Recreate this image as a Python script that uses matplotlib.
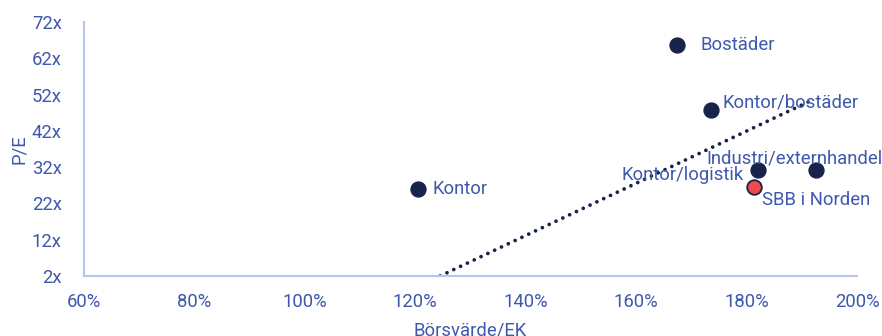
import matplotlib
matplotlib.use('Agg')
import matplotlib.pyplot as plt
from matplotlib.ticker import FuncFormatter

plt.rcParams['font.family'] = ['Roboto', 'DejaVu Sans']

# data
segment = ['Bostäder', 'Kontor/bostäder', 'Industri/externhandel', 'Kontor/logistik', 'Kontor']
pb = [167.4, 173.6, 192.6, 182.1, 120.5]
pe = [65.6, 47.7, 31.2, 31.2, 26.0]

sbb_name = 'SBB i Norden'
sbb_pb = 181.4
sbb_pe = 26.5

# trendline end points
trend_x = [124.5, 191.2]
trend_y = [2.0, 50.0]

x_ticks = [60, 80, 100, 120, 140, 160, 180, 200]
y_ticks = [2, 12, 22, 32, 42, 52, 62, 72]

txt = '#3d58ad'
axcol = '#b7c5ee'
navy = '#17234a'
fs = 13.3

fig = plt.figure(figsize=(8.82, 3.36), dpi=100)
ax = fig.add_axes([0.0952, 0.1786, 0.8765, 0.756])

ax.plot(trend_x, trend_y, linestyle=(0, (0.01, 2.0)), color=navy, lw=2.7,
        dash_capstyle='round', zorder=2)

ax.scatter(pb, pe, s=115, color=navy, zorder=3)
ax.scatter([sbb_pb], [sbb_pe], s=110, color='#f04a4a', edgecolor=navy, linewidth=1.3, zorder=4)

# label offsets in pixels
offs = {'Bostäder': (23, 0, 'left'),
        'Kontor/bostäder': (11, 8, 'left'),
        'Industri/externhandel': (-110, 12, 'left'),
        'Kontor/logistik': (-14, -5, 'right'),
        'Kontor': (14, 0, 'left')}
for name, x, y in zip(segment, pb, pe):
    dx, dy, ha = offs[name]
    ax.annotate(name, (x, y), xytext=(dx, dy), textcoords='offset pixels',
                ha=ha, va='center', color=txt, fontsize=fs, zorder=5)
ax.annotate(sbb_name, (sbb_pb, sbb_pe), xytext=(8, -13), textcoords='offset pixels',
            ha='left', va='center', color=txt, fontsize=fs, zorder=5)

ax.set_xlim(60, 200)
ax.set_ylim(2, 72)
ax.set_xticks(x_ticks)
ax.set_yticks(y_ticks)
ax.xaxis.set_major_formatter(FuncFormatter(lambda v, p: '%d%%' % v))
ax.yaxis.set_major_formatter(FuncFormatter(lambda v, p: '%dx' % v))
ax.tick_params(length=0, labelsize=fs, labelcolor=txt)
ax.tick_params(axis='x', pad=12)
ax.tick_params(axis='y', pad=16)

for s in ['top', 'right']:
    ax.spines[s].set_visible(False)
for s in ['left', 'bottom']:
    ax.spines[s].set_color(axcol)
    ax.spines[s].set_linewidth(1.5)

ax.set_ylabel('P/E', color=txt, fontsize=fs, labelpad=3)
ax.set_xlabel('Börsvärde/EK', color=txt, fontsize=fs, labelpad=8)

plt.savefig('out.png', dpi=100, facecolor='white')
